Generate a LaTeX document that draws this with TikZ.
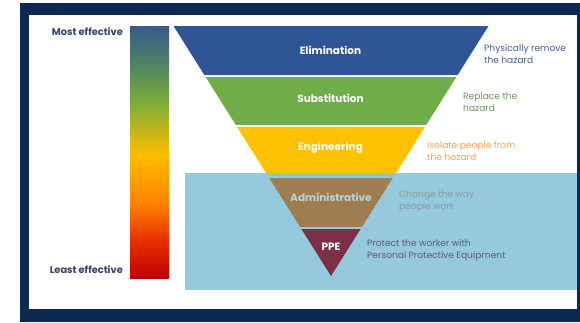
\documentclass[tikz,border=0pt]{standalone}
\usepackage{fontspec}
\setmainfont{Poppins}
\definecolor{navy}{HTML}{0B2950}
\definecolor{labelnavy}{HTML}{34446A}
\definecolor{elim}{HTML}{2F5597}
\definecolor{subst}{HTML}{70AD47}
\definecolor{eng}{HTML}{FFC000}
\definecolor{admin}{HTML}{A07D50}
\definecolor{ppe}{HTML}{7C3048}
\definecolor{sky}{HTML}{94C9DE}
\definecolor{seam}{HTML}{A8C68C}
\definecolor{adminlabel}{HTML}{B4D4DC}
\definecolor{elimtext}{HTML}{4A5E98}
\definecolor{substtext}{HTML}{6E9160}
\definecolor{engtext}{HTML}{F2A05E}
\definecolor{admintext}{HTML}{8C9CA4}
\definecolor{ppetext}{HTML}{5C5C7E}
% effectiveness bar stops
\definecolor{barA}{HTML}{3A5A8C}
\definecolor{barB}{HTML}{4E8262}
\definecolor{barC}{HTML}{7FAE36}
\definecolor{barD}{HTML}{FFBE00}
\definecolor{barE}{HTML}{FF8000}
\definecolor{barF}{HTML}{E83000}
\definecolor{barG}{HTML}{C00000}
\begin{document}
\begin{tikzpicture}[x=1pt,y=-1pt,
  band/.style={inner sep=0pt,font=\bfseries\fontsize{10.5}{12}\selectfont,text=white},
  note/.style={inner sep=0pt,anchor=west,align=left,font=\fontsize{9.1}{12}\selectfont},
  scale label/.style={inner sep=0pt,anchor=east,font=\bfseries\fontsize{9.8}{11}\selectfont,text=labelnavy}]
% frame
\useasboundingbox (0,0) rectangle (580,322);
\fill[white] (0,0) rectangle (580,322);
\fill[navy] (20,3) rectangle (580,322);
\fill[white] (29,15) rectangle (577,309);
% shaded zone behind the two lowest levels
\fill[sky] (185,173) rectangle (577,290);
% effectiveness bar
\shade[top color=barA,bottom color=barB] (130,26) rectangle (169,64);
\shade[top color=barB,bottom color=barC] (130,63.5) rectangle (169,104);
\shade[top color=barC,bottom color=barD] (130,103.5) rectangle (169,155);
\shade[top color=barD,bottom color=barE] (130,154.5) rectangle (169,205);
\shade[top color=barE,bottom color=barF] (130,204.5) rectangle (169,240);
\shade[top color=barF,bottom color=barG] (130,239.5) rectangle (169,278);
\node[scale label] (most) at (123,32) {Most effective};
\node[scale label] (least) at (123,270) {Least effective};
% hierarchy funnel
\begin{scope}
  \clip (173.5,26) -- (488.5,26) -- (331,276) -- cycle;
  \fill[elim] (160,26) rectangle (500,75);
  \fill[subst] (160,77) rectangle (500,125);
  \fill[eng] (160,127) rectangle (500,173);
  \fill[seam] (160,173) rectangle (500,175.5);
  \fill[admin] (160,177.5) rectangle (500,227);
  \fill[ppe] (160,229) rectangle (500,280);
\end{scope}
\node[band] (elimination) at (330.5,50) {Elimination};
\node[band] (substitution) at (330.5,98) {Substitution};
\node[band] (engineering) at (330.5,148) {Engineering};
\node[band,text=adminlabel] (administrative) at (331,197) {Administrative};
\node[band] (ppelabel) at (331,247) {PPE};
% descriptions
\node[note,text=elimtext] (elimnote) at (484,54) {Physically remove\\the hazard};
\node[note,text=substtext] (substnote) at (463,102.5) {Replace the\\hazard};
\node[note,text=engtext] (engnote) at (427,151.5) {Isolate people from\\the hazard};
\node[note,text=admintext] (adminnote) at (399,201) {Change the way\\people work};
\node[note,text=ppetext] (ppenote) at (367,250) {Protect the worker with\\Personal Protective Equipment};
\end{tikzpicture}
\end{document}
